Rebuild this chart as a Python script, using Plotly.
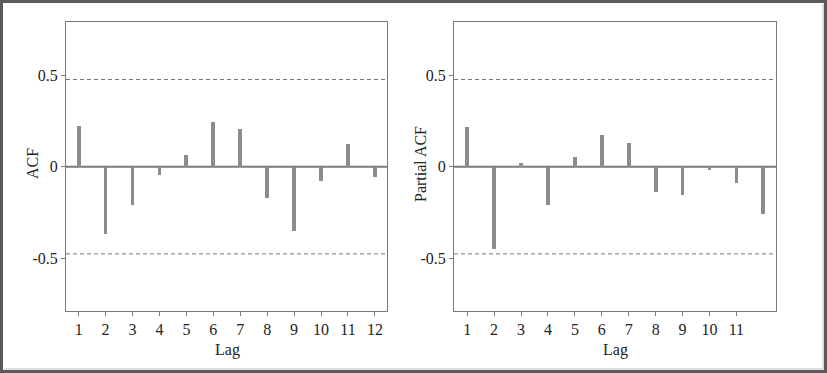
import plotly.graph_objects as go

lags = list(range(1, 13))
acf_values = [0.222, -0.369, -0.209, -0.044, 0.062, 0.242, 0.207, -0.169, -0.353, -0.078, 0.124, -0.058]
pacf_values = [0.218, -0.451, 0.022, -0.209, 0.051, 0.171, 0.129, -0.138, -0.155, -0.018, -0.091, -0.256]
conf_limit = 0.4754
acf_ticks = list(range(1, 13))
pacf_ticks = list(range(1, 12))
y_ticks = [-0.5, 0, 0.5]
y_tick_text = ["-0.5", "0", "0.5"]

W, H = 827, 373
FONT = "Liberation Serif"
bar_color = "#8c8c8c"
axis_color = "#7a7a7a"
text_color = "#222"

fig = go.Figure()
fig.add_trace(go.Bar(x=lags, y=acf_values, width=0.14, marker=dict(color=bar_color, line=dict(width=0)),
                     xaxis="x", yaxis="y", showlegend=False))
fig.add_trace(go.Bar(x=lags, y=pacf_values, width=0.14, marker=dict(color=bar_color, line=dict(width=0)),
                     xaxis="x2", yaxis="y2", showlegend=False))

ydom = [1 - 311 / H, 1 - 22 / H]
common_x = dict(range=[0.53, 12.45], showline=True, mirror=True, linecolor=axis_color, linewidth=1,
                ticks="outside", ticklen=4, tickcolor=axis_color, showgrid=False, zeroline=False,
                tickfont=dict(family=FONT, size=16, color=text_color))
common_y = dict(range=[-0.787, 0.789], showline=True, mirror=True, linecolor=axis_color, linewidth=1,
                ticks="outside", ticklen=4, tickcolor=axis_color, showgrid=False, zeroline=False,
                tickvals=y_ticks, ticktext=y_tick_text,
                tickfont=dict(family=FONT, size=16, color=text_color), domain=ydom)

fig.update_layout(
    width=W, height=H, margin=dict(l=0, r=0, t=0, b=0),
    paper_bgcolor="white", plot_bgcolor="white", bargap=0,
    xaxis=dict(common_x, domain=[66 / W, 387 / W], tickvals=acf_ticks, anchor="y"),
    yaxis=dict(common_y, anchor="x"),
    xaxis2=dict(common_x, domain=[454 / W, 776 / W], tickvals=pacf_ticks, range=[0.51, 12.47], anchor="y2"),
    yaxis2=dict(common_y, anchor="x2"),
)

titles = [
    ("Lag", 227 / W, 1 - 350 / H, 0),
    ("Lag", 615 / W, 1 - 350 / H, 0),
    ("ACF", 32 / W, 1 - 164 / H, -90),
    ("Partial ACF", 420 / W, 1 - 164 / H, -90),
]
for txt, ax, ay, ang in titles:
    fig.add_annotation(text=txt, x=ax, y=ay, xref="paper", yref="paper", showarrow=False,
                       textangle=ang, xanchor="center", yanchor="middle",
                       font=dict(family=FONT, size=16, color=text_color))

shapes = []
for xr, yr in (("x", "y"), ("x2", "y2")):
    shapes.append(dict(type="line", xref=f"{xr} domain", yref=yr, x0=0, x1=1, y0=0, y1=0,
                       line=dict(color="#7a7a7a", width=2), layer="below"))
    for c in (conf_limit, -conf_limit):
        shapes.append(dict(type="line", xref=f"{xr} domain", yref=yr, x0=0, x1=1, y0=c, y1=c,
                           line=dict(color="#777777", width=1, dash="4px,3px")))
# outer frame
shapes.append(dict(type="rect", xref="paper", yref="paper", x0=1.5 / W, x1=1 - 1.5 / W, y0=1.5 / H, y1=1 - 1.5 / H,
                   line=dict(color="#5a5a5a", width=3)))
shapes.append(dict(type="line", xref="paper", yref="paper", x0=1 - 4 / W, x1=1 - 4 / W, y0=4 / H, y1=1 - 4 / H,
                   line=dict(color="#bbbbbb", width=1)))
shapes.append(dict(type="line", xref="paper", yref="paper", x0=4 / W, x1=1 - 4 / W, y0=4 / H, y1=4 / H,
                   line=dict(color="#bbbbbb", width=1)))
fig.update_layout(shapes=shapes)

fig.write_html("out.html", config={"displayModeBar": False},
               post_script="document.body.style.margin='0';document.body.style.overflow='hidden';")
